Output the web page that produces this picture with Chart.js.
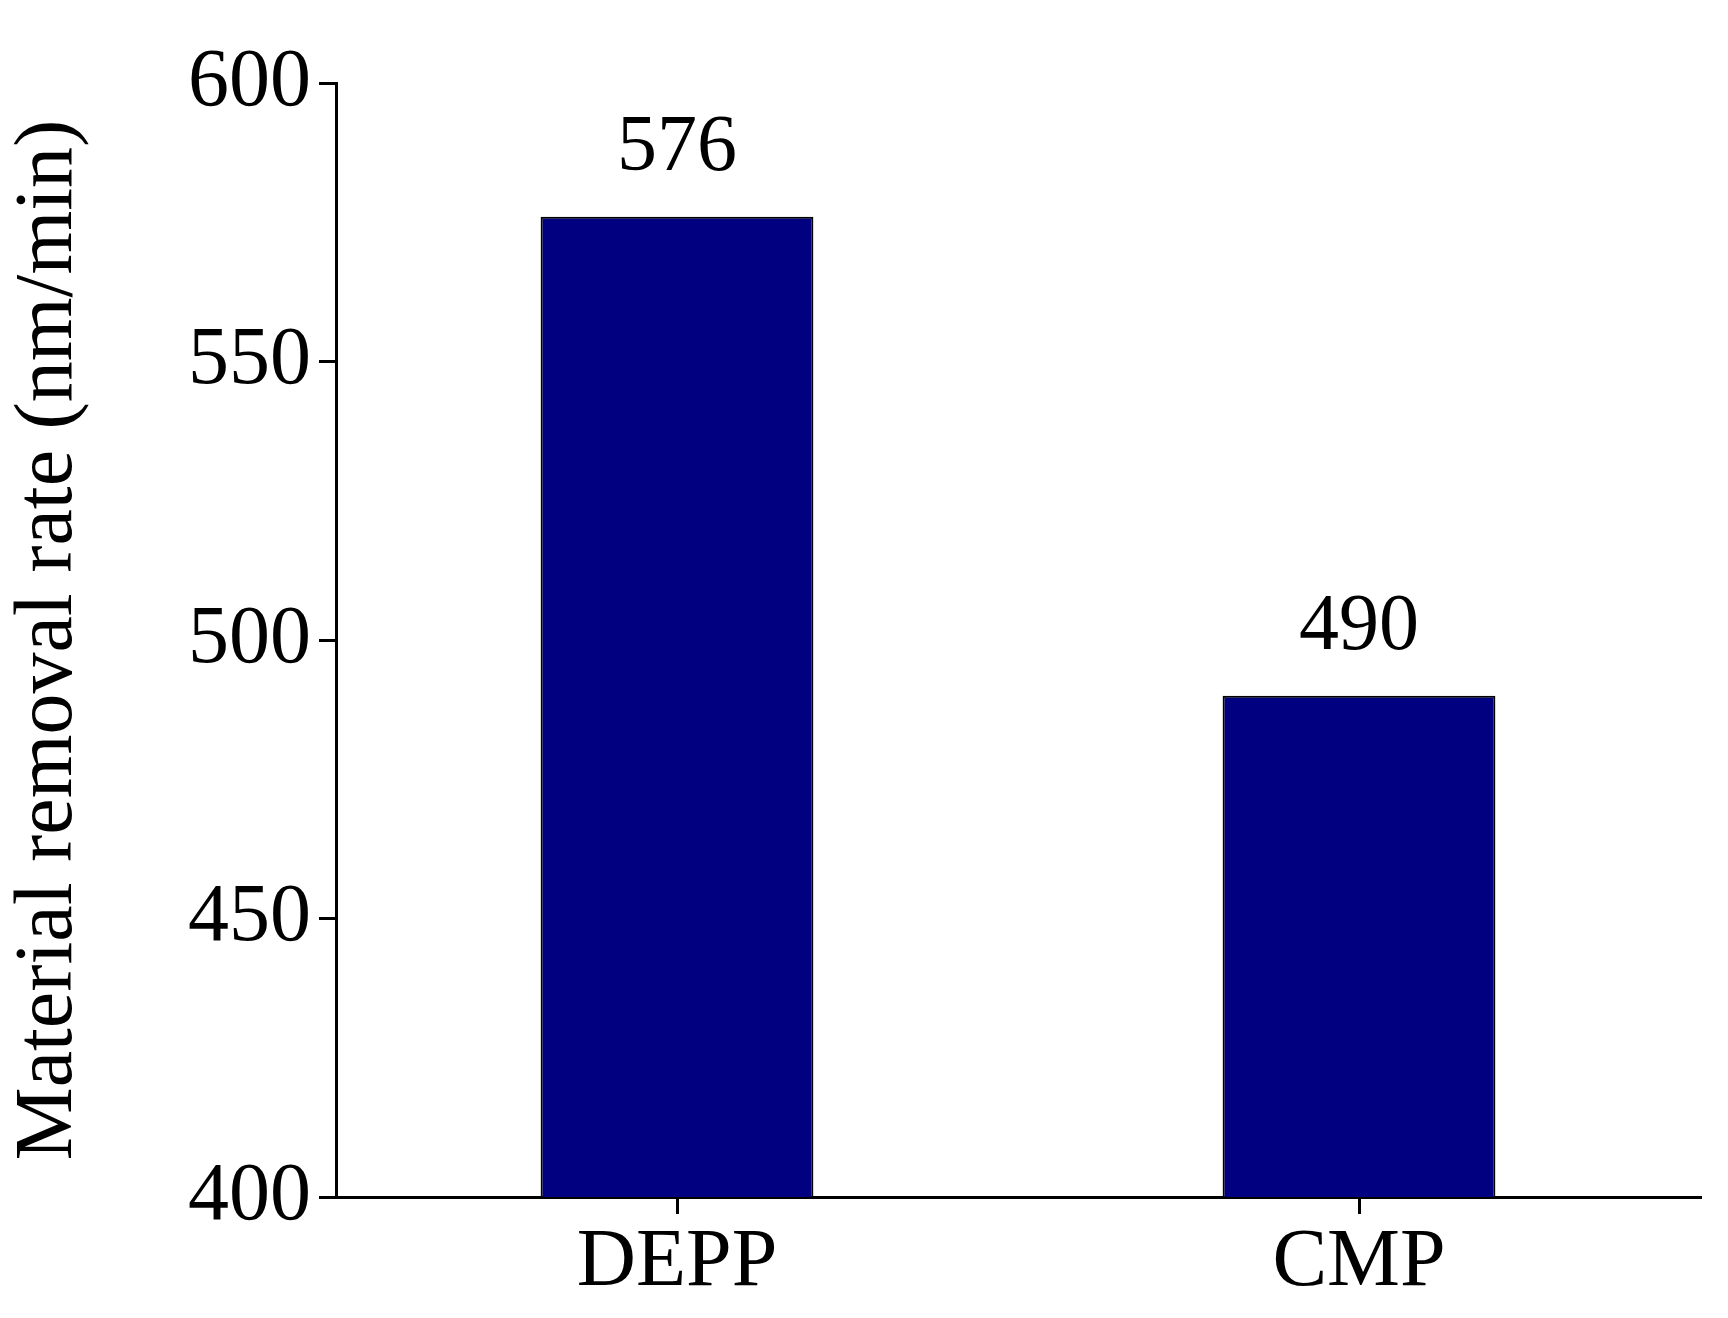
<!DOCTYPE html>
<html><head><meta charset="utf-8">
<script src="https://cdn.jsdelivr.net/npm/chart.js@4/dist/chart.umd.min.js"></script>
<style>html,body{margin:0;padding:0;background:#fff}</style>
</head><body>
<canvas id="c" width="1728" height="1318"></canvas>
<script>
const categories = ["DEPP", "CMP"];
const values = [576, 490];
const yTicks = [400, 450, 500, 550, 600];

const labelPlugin = {
  id: 'lbl',
  afterDatasetsDraw(chart) {
    const ctx = chart.ctx;
    const meta = chart.getDatasetMeta(0);
    ctx.save();
    ctx.font = '80px "Liberation Serif"';
    ctx.fillStyle = '#000';
    ctx.textAlign = 'center';
    ctx.textBaseline = 'bottom';
    meta.data.forEach((b, i) => ctx.fillText(String(values[i]), b.x, b.y - 28));
    ctx.restore();
  }
};

new Chart(document.getElementById('c'), {
  type: 'bar',
  data: { labels: categories, datasets: [{ data: values, backgroundColor: '#000080', borderColor: '#000', borderWidth: 2, categoryPercentage: 0.8, barPercentage: 0.5 }] },
  options: {
    responsive: false, animation: false,
    layout: { padding: { top: 83, right: 28, bottom: 0, left: 0 } },
    plugins: { legend: { display: false }, tooltip: { enabled: false } },
    scales: {
      x: {
        grid: { display: true, offset: false, drawOnChartArea: false, drawTicks: true, tickLength: 17, tickColor: '#000', lineWidth: 3 },
        border: { color: '#000', width: 3 },
        ticks: { color: '#000', font: { family: 'Liberation Serif', size: 82 }, padding: 0 },
        afterFit(s) { s.height = 121; }
      },
      y: {
        min: 400, max: 600,
        afterBuildTicks(s) { s.ticks = yTicks.map(v => ({ value: v })); },
        grid: { display: true, drawOnChartArea: false, drawTicks: true, tickLength: 17, tickColor: '#000', lineWidth: 3 },
        border: { color: '#000', width: 3 },
        ticks: { color: '#000', font: { family: 'Liberation Serif', size: 82 }, padding: 8 },
        title: { display: true, text: 'Material removal rate (nm/min)', color: '#000', font: { family: 'Liberation Serif', size: 82 }, padding: { top: 0, bottom: 0 } },
        afterFit(s) { s.width = 336; }
      }
    }
  },
  plugins: [labelPlugin]
});
</script>
</body></html>
